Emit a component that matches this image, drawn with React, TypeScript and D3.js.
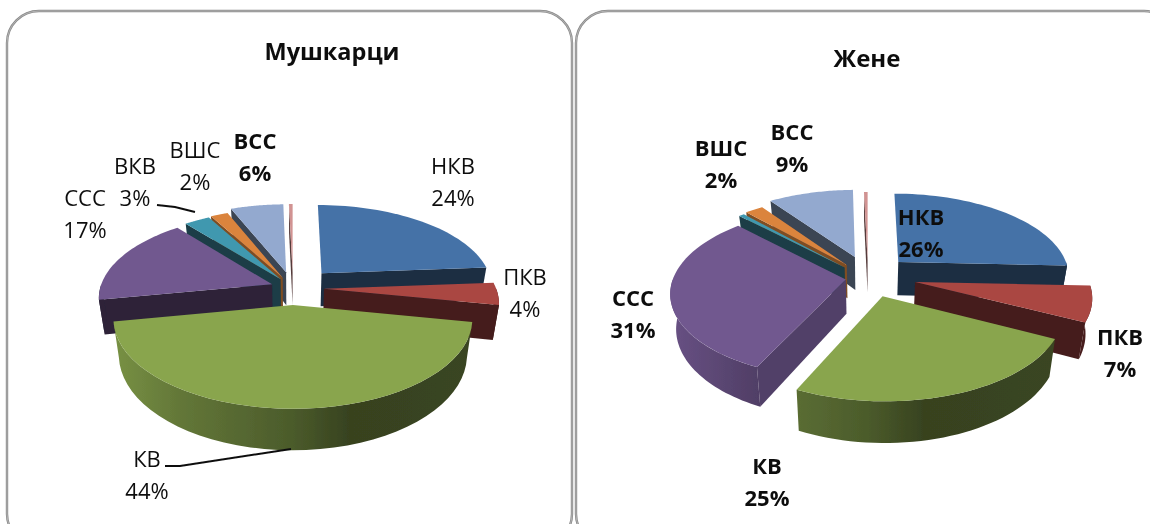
import React from "react";
import * as d3 from "d3";

const categories = ["НКВ", "ПКВ", "КВ", "ССС", "ВКВ", "ВШС", "ВСС", ""];
const menValues = [23.8, 4.2, 44.0, 17.0, 2.8, 1.9, 5.8, 0.4];
const womenValues = [25.7, 6.7, 24.6, 30.6, 0.6, 2.0, 9.4, 0.4];
const colors = ["#4572a7", "#aa4643", "#89a54e", "#71588f", "#4198af", "#db843d", "#93a9cf", "#d19392"];

// how far each slice is pulled out, as a share of the radius
const menExplode = [0.25, 0.18, 0.2, 0.13, 0.13, 0.14, 0.2, 0.2];
const womenExplode = [0.25, 0.28, 0.25, 0.13, 0.2, 0.2, 0.25, 0.2];
// extra pull towards the viewer
const menShift = [0, 0, 0, 0, 0, 0, 0, 0];
const womenShift = [0, 0, 0, 0.02, 0.04, 0.02, 0, 0];

const menLabelPos = [[453, 166], [525, 277], [147, 459], [85, 198], [135, 166], [195, 150], [255, 141]];
const womenLabelPos = [[921, 217], [1120, 337], [767, 466], [633, 298], [0, 0], [721, 148], [792, 132]];
const menBold = [false, false, false, false, false, false, true];

const TAU = Math.PI * 2;
const FONT = "'Open Sans', 'Noto Sans', sans-serif";

// darkness of the outer wall along the screen x
const wallShade = d3.scaleLinear().domain([-1, -0.6, 0, 0.3, 1]).range([0.9, 0.72, 0.55, 0.4, 0.42]).clamp(true);

const tint = (hex: string, k: number) => {
  const c = d3.rgb(hex);
  return d3.rgb(c.r * k, c.g * k, c.b * k).formatHex();
};

type PieProps = {
  id: string;
  values: number[];
  explode: number[];
  shift: number[];
  cx: number;
  cy: number;
  R: number;
  tilt?: number;
  depth?: number;
  persp?: number;
};

const Pie3D = ({ id, values, explode, shift, cx, cy, R, tilt = 0.48, depth = 34, persp = 0.15 }: PieProps) => {
  const arcs = d3.pie<number>().sort(null).value((d) => d)(values);
  const line = d3.line();

  const project = (X: number, Y: number, z: number): [number, number] => {
    const s = 1 / (1 - persp * Y);
    return [cx + s * X * R * (1 - 0.03 * z), cy + s * (tilt * Y * R + z * depth)];
  };

  const slices = arcs.map((a, i) => {
    const mid = (a.startAngle + a.endAngle) / 2;
    const ox = explode[i] * Math.sin(mid);
    const oy = -explode[i] * Math.cos(mid) + shift[i];
    const rim = (t: number, z: number) => project(ox + Math.sin(t), oy - Math.cos(t), z);
    const apex = (z: number) => project(ox, oy, z);
    const steps = (t0: number, t1: number) =>
      d3.range(0, 41).map((j) => t0 + ((t1 - t0) * j) / 40);

    const top = line([apex(0), ...steps(a.startAngle, a.endAngle).map((t) => rim(t, 0))]) + "Z";

    // outer wall only where it faces the viewer
    const w0 = Math.max(a.startAngle, Math.PI / 2);
    const w1 = Math.min(a.endAngle, (Math.PI * 3) / 2);
    const wall =
      w1 > w0
        ? line([
            ...steps(w0, w1).map((t) => rim(t, 0)),
            ...steps(w1, w0).map((t) => rim(t, 1)),
          ]) + "Z"
        : null;
    const shortWall = w1 - w0 < (20 * Math.PI) / 180;

    const face = (t: number) =>
      line([apex(0), rim(t, 0), rim(t, 1), apex(1)]) + "Z";
    const startNormal = a.startAngle - Math.PI / 2;
    const endNormal = a.endAngle + Math.PI / 2;
    const faces: { d: string; shade: number }[] = [];
    if (Math.cos(startNormal) < -0.001)
      faces.push({
        d: face(a.startAngle),
        shade: ((startNormal + TAU) % TAU) < (130 * Math.PI) / 180 ? 0.72 : i === 5 ? 0.58 : 0.4,
      });
    if (Math.cos(endNormal) < -0.001) faces.push({ d: face(a.endAngle), shade: 0.4 });

    return { i, order: -Math.cos(mid), top, wall, shortWall, faces };
  });

  const ordered = [...slices].sort((p, q) => p.order - q.order);

  return (
    <g>
      <defs>
        {colors.map((c, i) => (
          <linearGradient key={i} id={`${id}-wall-${i}`} gradientUnits="userSpaceOnUse" x1={cx - R * 1.1} x2={cx + R * 1.1} y1={0} y2={0}>
            {wallShade.domain().map((d) => (
              <stop key={d} offset={(d + 1) / 2} stopColor={tint(c, wallShade(d))} />
            ))}
          </linearGradient>
        ))}
      </defs>
      {ordered.map((s) => (
        <g key={s.i}>
          {s.faces.map((f, j) => (
            <path key={j} d={f.d} fill={tint(colors[s.i], f.shade)} />
          ))}
          {s.wall && (
            <path d={s.wall} fill={s.shortWall ? tint(colors[s.i], 0.4) : `url(#${id}-wall-${s.i})`} />
          )}
          <path d={s.top} fill={colors[s.i]} />
        </g>
      ))}
    </g>
  );
};

const Labels = ({ values, pos, bold }: { values: number[]; pos: number[][]; bold: boolean[] }) => {
  const total = d3.sum(values);
  const pct = d3.format(".0%");
  return (
    <g fontFamily={FONT} fontSize={22} fill="#111" textAnchor="middle">
      {pos.map((p, i) =>
        p[0] === 0 ? null : (
          <g key={i} fontWeight={bold[i] ? 700 : 400}>
            <text x={p[0]} y={p[1] + 8}>{categories[i]}</text>
            <text x={p[0]} y={p[1] + 40}>{pct(values[i] / total)}</text>
          </g>
        )
      )}
    </g>
  );
};

const Panel = ({ x, w }: { x: number; w: number }) => (
  <g fill="none">
    <rect x={x} y={11} width={w} height={535} rx={32} stroke="#8a8a8a" strokeWidth={2.4} />
    <rect x={x} y={11} width={w} height={535} rx={32} stroke="#cfcfcf" strokeWidth={0.6} />
  </g>
);

export default function App() {
  const leader = d3.line();
  return (
    <svg width={1150} height={524} style={{ position: "absolute", left: 0, top: 0, display: "block" }}>
      <defs>
        <filter id="soft" x="-5%" y="-5%" width="110%" height="110%">
          <feGaussianBlur stdDeviation={0.45} />
        </filter>
      </defs>
      <rect width={1150} height={524} fill="#fff" />
      <g filter="url(#soft)">
        <Panel x={7} w={565} />
        <Panel x={576} w={600} />
        <text x={332} y={60} textAnchor="middle" fontFamily={FONT} fontSize={23.5} fontWeight={700} fill="#111">Мушкарци</text>
        <text x={867} y={67} textAnchor="middle" fontFamily={FONT} fontSize={24} fontWeight={700} fill="#111">Жене</text>
        <Pie3D id="men" values={menValues} explode={menExplode} shift={menShift} cx={293} cy={288} R={172} />
        <Pie3D id="women" values={womenValues} explode={womenExplode} shift={womenShift} cx={868} cy={276} R={172} />
        <Labels values={menValues} pos={menLabelPos} bold={menBold} />
        <Labels values={womenValues} pos={womenLabelPos} bold={categories.map(() => true)} />
        <path d={leader([[157, 205], [175, 207], [195, 212]]) ?? ""} fill="none" stroke="#111" strokeWidth={2} />
        <path d={leader([[165, 466], [180, 466], [291, 449]]) ?? ""} fill="none" stroke="#111" strokeWidth={2} />
      </g>
    </svg>
  );
}
